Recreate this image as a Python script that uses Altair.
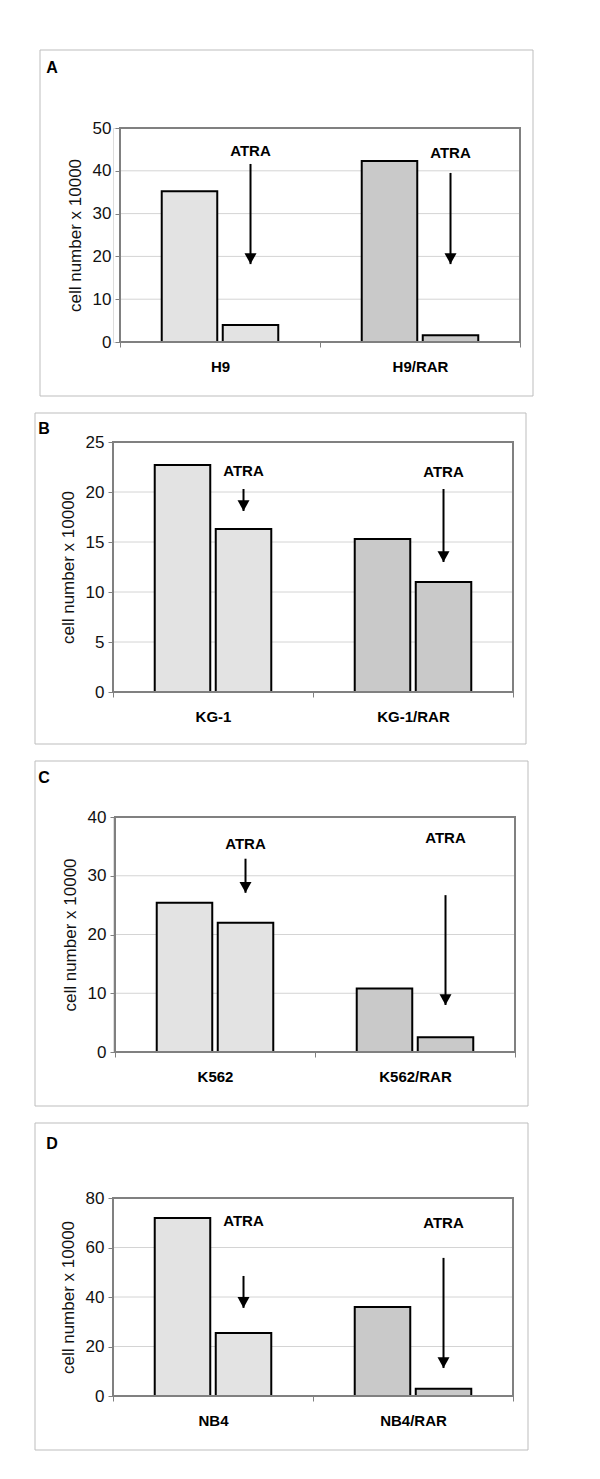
import altair as alt
import pandas as pd

# ---------------- data ----------------
panel_ids = ["A", "B", "C", "D"]
cell_lines = [["H9", "H9/RAR"], ["KG-1", "KG-1/RAR"], ["K562", "K562/RAR"], ["NB4", "NB4/RAR"]]
line_kind = ["parent", "RAR"]
treatments = ["control", "ATRA"]
control_vals = [[35.2, 42.3], [22.7, 15.3], [25.4, 10.8], [71.9, 36.0]]
atra_vals = [[4.0, 1.6], [16.3, 11.0], [22.0, 2.5], [25.5, 2.9]]
y_max = [50, 25, 40, 80]
y_step = [10, 5, 10, 20]
atra_label_y = [[44.6, 44.2], [22.1, 22.0], [35.4, 36.4], [70.7, 69.9]]
arrow_from = [[41.6, 39.5], [20.3, 20.3], [32.9, 26.7], [48.5, 55.8]]
arrow_to = [[18.2, 18.2], [18.1, 13.0], [27.1, 8.0], [35.6, 11.3]]
y_title = "cell number x 10000"
annotation_text = "ATRA"

# ---------------- styling ----------------
FONT = "Liberation Sans"
plot_w = 400
plot_h = [214, 250, 235, 198]
shift = [7, 0, 2, 0]
box_ext = [(-73, -78, 420, 268), (-78, -29, 413, 302), (-78, -56, 415, 289), (-78, -75, 415, 252)]
letter_pos = [(-61, -60), (-69, -13), (-69, -39), (-61, -54)]
offset_pad = [(0.09, 0.684), (0.09, 0.684), (0.088, 0.515), (0.09, 0.684)]
fill_colors = ["#e3e3e3", "#c9c9c9"]
arrow_head = "M-1,-1.8L1,-1.8L0,0Z"


def make_panel(i):
    lines = cell_lines[i]
    h = plot_h[i]
    s = shift[i]
    rows = []
    for j, ln in enumerate(lines):
        rows.append({"line": ln, "treatment": "control", "value": control_vals[i][j], "kind": line_kind[j]})
        rows.append({"line": ln, "treatment": "ATRA", "value": atra_vals[i][j], "kind": line_kind[j]})
    bars_df = pd.DataFrame(rows)
    ann_df = pd.DataFrame({
        "line": lines,
        "treatment": ["ATRA", "ATRA"],
        "value": atra_label_y[i],
        "start": arrow_from[i],
        "tip": arrow_to[i],
        "label": [annotation_text, annotation_text],
    })
    tick_vals = list(range(0, y_max[i] + 1, y_step[i]))
    grid_df = pd.DataFrame({"value": tick_vals})

    x_enc = alt.X(
        "line:N", sort=lines, title=None,
        scale=alt.Scale(paddingInner=0, paddingOuter=0, range=[s, s + plot_w]),
        axis=alt.Axis(labelAngle=0, labelFont=FONT, labelFontSize=15, labelFontWeight="bold",
                      labelColor="#000", labelPadding=12, tickBand="extent", tickSize=5,
                      tickColor="#808080", domain=False, grid=False),
    )
    xo_enc = alt.XOffset("treatment:N", sort=treatments,
                         scale=alt.Scale(paddingInner=offset_pad[i][0], paddingOuter=offset_pad[i][1]))
    y_scale = alt.Scale(domain=[0, y_max[i]], nice=False, zero=True)
    y_enc = alt.Y(
        "value:Q", title=y_title, scale=y_scale,
        axis=alt.Axis(values=tick_vals, tickSize=5, tickColor="#808080", offset=-s,
                      labelFont=FONT, labelFontSize=17, labelColor="#111", labelPadding=4,
                      titleFont=FONT, titleFontSize=17, titleFontWeight="normal", titleColor="#111",
                      titlePadding=8, domain=False, grid=False),
    )

    one = pd.DataFrame({"k": [0]})
    box = alt.Chart(one).mark_rect(filled=False, stroke="#bdbdbd", strokeWidth=1).encode(
        x=alt.value(box_ext[i][0]), x2=alt.value(box_ext[i][2]),
        y=alt.value(box_ext[i][1]), y2=alt.value(box_ext[i][3]),
    )
    grid = alt.Chart(grid_df).mark_rule(color="#d4d4d4", strokeWidth=1).encode(
        y=alt.Y("value:Q", title=y_title), x=alt.value(s), x2=alt.value(s + plot_w)
    )
    frame = alt.Chart(one).mark_rect(filled=False, stroke="#808080", strokeWidth=2).encode(
        x=alt.value(s), x2=alt.value(s + plot_w), y=alt.value(0), y2=alt.value(h)
    )
    letter = alt.Chart(pd.DataFrame({"t": [panel_ids[i]]})).mark_text(
        font=FONT, fontSize=16, fontWeight="bold", align="center", baseline="middle", color="#000"
    ).encode(x=alt.value(letter_pos[i][0]), y=alt.value(letter_pos[i][1]), text="t:N")

    bars = alt.Chart(bars_df).mark_bar(stroke="#000", strokeWidth=2).encode(
        x=x_enc, xOffset=xo_enc, y=y_enc,
        fill=alt.Fill("kind:N", scale=alt.Scale(domain=line_kind, range=fill_colors), legend=None),
    )
    labels = alt.Chart(ann_df).mark_text(
        font=FONT, fontSize=15, fontWeight="bold", baseline="middle", align="center", color="#000"
    ).encode(x=x_enc, xOffset=xo_enc, y=alt.Y("value:Q", title=y_title), text="label:N")
    shafts = alt.Chart(ann_df).mark_rule(color="#000", strokeWidth=2).encode(
        x=x_enc, xOffset=xo_enc, y=alt.Y("start:Q", title=y_title), y2=alt.Y2("tip:Q")
    )
    heads = alt.Chart(ann_df).mark_point(
        shape=arrow_head, size=144, filled=True, color="#000", opacity=1, strokeWidth=0
    ).encode(x=x_enc, xOffset=xo_enc, y=alt.Y("tip:Q", title=y_title))

    return alt.layer(box, grid, bars, frame, letter, labels, shafts, heads).properties(
        width=s + plot_w, height=h
    )


chart = alt.vconcat(
    *[make_panel(i) for i in range(4)], spacing=15
).properties(
    padding={"left": 26, "top": 41, "right": 5, "bottom": 5}
).configure_view(
    strokeWidth=0
).configure(font=FONT)

chart.save("out.html", embed_options={"renderer": "svg", "actions": False})
